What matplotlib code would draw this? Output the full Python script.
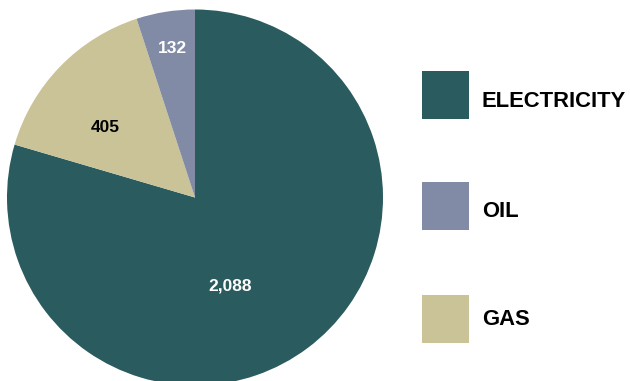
import matplotlib
matplotlib.use("Agg")
import matplotlib.pyplot as plt
from matplotlib.patches import Rectangle

plt.rcParams['font.family'] = ['Liberation Sans', 'DejaVu Sans']

categories = ["ELECTRICITY", "GAS", "OIL"]
values = [2088, 405, 132]
labels = ["2,088", "405", "132"]
colors = ["#2A5B5E", "#C9C397", "#828BA6"]
legend_order = ["ELECTRICITY", "OIL", "GAS"]
# label positions (x, baseline y) in pie radius units
label_pos = [(0.186, -0.496), (-0.479, 0.35), (-0.122, 0.770)]
label_colors = ["white", "black", "white"]

W, H = 630, 381
fig = plt.figure(figsize=(W / 100, H / 100), dpi=100)
cx, cy_top, r = 195, 197.5, 188
cy = H - cy_top
ax = fig.add_axes([(cx - r) / W, (cy - r) / H, 2 * r / W, 2 * r / H])
ax.pie(values, colors=colors, startangle=90, counterclock=False, radius=1,
       wedgeprops=dict(linewidth=0))
ax.set_xlim(-1, 1)
ax.set_ylim(-1, 1)
ax.set_aspect('equal')
ax.axis('off')

for (x, y), t, c in zip(label_pos, labels, label_colors):
    ax.text(x, y, t, ha='center', va='baseline', fontsize=12.5,
            fontweight='bold', color=c)

# legend drawn in pixel layout
cmap = dict(zip(categories, colors))
sq_left, sq_size = 422, 47.5
sq_tops = [71, 182, 295]
text_base = [106.7, 216.7, 325]
for k, top, base in zip(legend_order, sq_tops, text_base):
    fig.add_artist(Rectangle((sq_left / W, 1 - (top + sq_size) / H), sq_size / W, sq_size / H,
                             transform=fig.transFigure, facecolor=cmap[k], edgecolor='none'))
    fig.text(482 / W, 1 - base / H, k, ha='left', va='baseline', fontsize=15.8,
             fontweight='bold', color='black')

fig.savefig("out.png", dpi=100)
